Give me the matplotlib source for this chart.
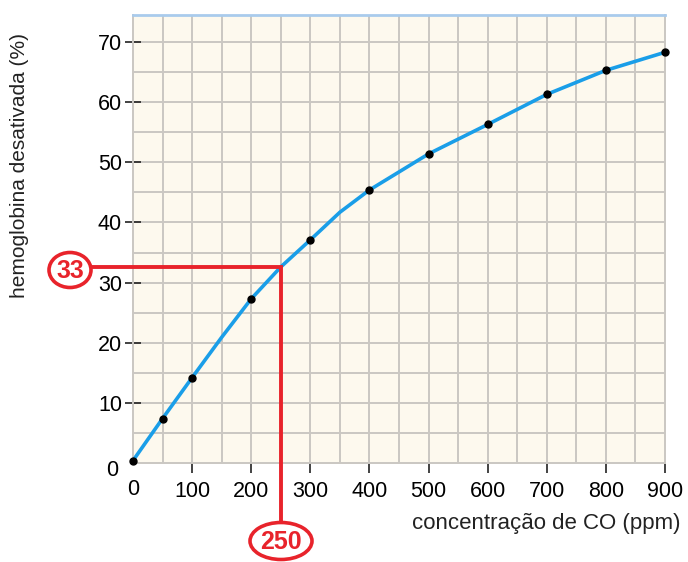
import matplotlib
matplotlib.use('Agg')
import matplotlib.pyplot as plt
from matplotlib.patches import Ellipse

plt.rcParams['font.family'] = ['Liberation Sans', 'DejaVu Sans']

# measured points (dots)
co_ppm = [0, 50, 100, 200, 300, 400, 500, 600, 700, 800, 900]
hb_pct = [0.4, 7.4, 14.2, 27.3, 37.1, 45.4, 51.4, 56.3, 61.3, 65.3, 68.3]

# curve vertices (line passes through some extra points)
curve_x = [0, 50, 100, 150, 200, 250, 300, 350, 400, 500, 600, 700, 800, 900]
curve_y = [0.4, 7.4, 14.2, 20.9, 27.3, 32.6, 37.1, 41.7, 45.4, 51.4, 56.3, 61.3, 65.3, 68.3]

mark_x, mark_y = 250, 32.6
mark_x_label, mark_y_label = '250', '33'

W, H = 688, 562
fig = plt.figure(figsize=(W / 100, H / 100), dpi=100)
ax = fig.add_axes([133 / W, 1 - 463 / H, (665 - 133) / W, (463 - 15) / H])
ax.set_facecolor('#fdf9ee')
ax.set_xlim(0, 900)
ax.set_ylim(0, 74.5)

# grid
for gx in range(50, 900, 50):
    ax.axvline(gx, color='#cac7c2', lw=1.4, zorder=1)
for gy in range(5, 75, 5):
    ax.axhline(gy, color='#cac7c2', lw=1.4, zorder=1)

for s in ['left', 'right', 'bottom']:
    ax.spines[s].set_color('#cac7c2')
    ax.spines[s].set_linewidth(1.4)
ax.spines['top'].set_color('#a9cbec')
ax.spines['top'].set_linewidth(2)

ax.plot(curve_x, curve_y, color='#1a9ee8', lw=2.6, zorder=3, solid_capstyle='round')
ax.plot(co_ppm, hb_pct, 'o', color='black', ms=5, zorder=4, clip_on=False)

# red marker lines
red = '#e8232b'
x_left = -(133 - 92) / (532 / 900)
y_bot = -(524 - 463) / (448 / 74.5)
ax.plot([x_left, mark_x, mark_x], [mark_y, mark_y, y_bot], color=red, lw=2.8,
        zorder=5, clip_on=False, solid_joinstyle='miter')

# ticks
ax.set_xticks(range(100, 1000, 100))
ax.set_yticks(range(10, 80, 10))
ax.tick_params(axis='x', direction='out', length=7, width=1.2, pad=6,
               labelsize=15.5, color='#222222')
ax.tick_params(axis='y', direction='inout', length=12, width=1.2, pad=2,
               labelsize=15.5, color='#222222')
ax.text(0, -2.6, '0', transform=ax.transData, ha='center', va='top', fontsize=15.5)
fig.text(112 / W, 1 - 470 / H, '0', ha='center', va='center', fontsize=15.5)

fig.text(546 / W, 1 - 523 / H, 'concentração de CO (ppm)', ha='center', va='center',
         fontsize=16, color='#222222')
fig.text(20 / W, 1 - 166 / H, 'hemoglobina desativada (%)', ha='center', va='center',
         rotation=90, fontsize=15, color='#222222')

# circled labels
for cx, cy, w, h, t in [(70, 270, 42, 35, mark_y_label), (281, 541, 62, 37, mark_x_label)]:
    e = Ellipse((cx / W, 1 - cy / H), w / W, h / H, transform=fig.transFigure,
                facecolor='white', edgecolor=red, lw=2.6, zorder=6)
    fig.patches.append(e)
    fig.text(cx / W, 1 - (cy + 1) / H, t, ha='center', va='center', fontsize=18,
             fontweight='bold', color=red, zorder=7)

fig.savefig('out.png', dpi=100)
